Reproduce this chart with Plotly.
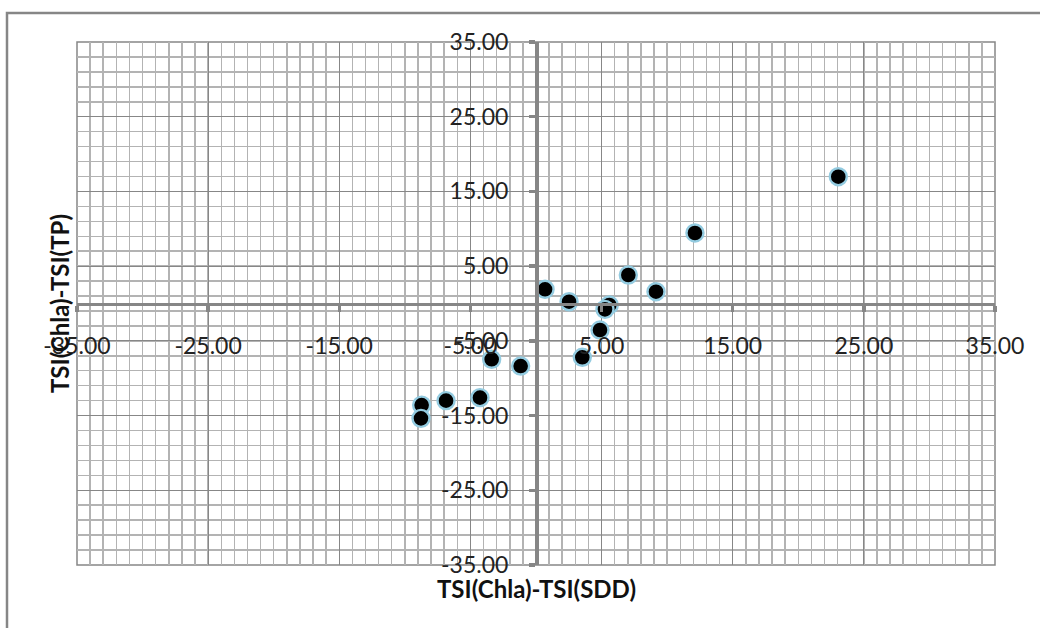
import plotly.graph_objects as go

# Data
x_vals = [0.69, 2.52, 7.04, 9.15, 5.59, 5.26, 4.88, 3.53, -3.38, -1.17, -4.27, -6.86, -8.72, -8.77, 12.12, 23.05]
y_vals = [1.90, 0.24, 3.81, 1.58, -0.20, -0.78, -3.55, -7.20, -7.47, -8.37, -12.60, -13.00, -13.60, -15.37, 9.44, 16.97]

tick_vals = [-35, -25, -15, -5, 5, 15, 25, 35]
tick_text = ["-35.00", "-25.00", "-15.00", "-5.00", "5.00", "15.00", "25.00", "35.00"]

x_title = "TSI(Chla)-TSI(SDD)"
y_title = "TSI(Chla)-TSI(TP)"

W, H = 1040, 628
L, R, T, B = 77, 45, 42, 63
pw, ph = W - L - R, H - T - B

def px_to_paper_x(px):
    return (px - L) / pw

def px_to_paper_y(py):
    return (H - B - py) / ph

FONT = "Lato"
AX = "#868686"
MAJ = "#878787"
MIN = "#b3b3b3"

fig = go.Figure()
fig.add_trace(go.Scatter(
    x=x_vals, y=y_vals, mode="markers",
    marker=dict(size=17, color="black", line=dict(color="#93cbe0", width=2.4)),
    showlegend=False, cliponaxis=False, hoverinfo="skip",
))

axis_common = dict(
    range=[-35, 35],
    tickmode="array", tickvals=tick_vals, ticktext=tick_text,
    showgrid=True, gridcolor=MAJ, gridwidth=1,
    minor=dict(showgrid=True, gridcolor=MIN, gridwidth=1.5),
    zeroline=False,
    showline=True, linecolor=AX, linewidth=3.5,
    ticks="outside", ticklen=6, tickwidth=3.5, tickcolor=AX,
    tickfont=dict(family=FONT, size=23, color="#222222"),
    anchor="free", position=0.5,
    fixedrange=True,
)

fig.update_xaxes(**axis_common, ticklabelstandoff=14)
fig.update_xaxes(minor_dtick=1, minor_tick0=-35)
fig.update_yaxes(**axis_common, ticklabelstandoff=16)
fig.update_yaxes(minor_dtick=2, minor_tick0=-35)

fig.update_layout(
    width=W, height=H,
    margin=dict(l=L, r=R, t=T, b=B),
    paper_bgcolor="white", plot_bgcolor="white",
    font=dict(family=FONT),
    shapes=[
        dict(type="rect", xref="paper", yref="paper",
             x0=px_to_paper_x(7), x1=px_to_paper_x(1060),
             y0=px_to_paper_y(650), y1=px_to_paper_y(13),
             line=dict(color=AX, width=2.5), fillcolor="rgba(0,0,0,0)", layer="below"),
        dict(type="rect", xref="paper", yref="paper", x0=0, x1=1, y0=0, y1=1,
             line=dict(color=AX, width=1.5), fillcolor="rgba(0,0,0,0)", layer="below"),
    ],
    annotations=[
        dict(text=f"<b>{x_title}</b>", xref="paper", yref="paper",
             x=px_to_paper_x(536), y=px_to_paper_y(588), showarrow=False,
             xanchor="center", yanchor="middle",
             font=dict(family=FONT, size=24, color="#111111")),
        dict(text=f"<b>{y_title}</b>", xref="paper", yref="paper",
             x=px_to_paper_x(59), y=px_to_paper_y(304), showarrow=False,
             xanchor="center", yanchor="middle", textangle=-90,
             font=dict(family=FONT, size=24, color="#111111")),
    ],
)

fig.write_html(
    "out.html",
    config={"displayModeBar": False, "staticPlot": True},
    post_script="document.body.style.margin='0';document.body.style.overflow='hidden';",
)
